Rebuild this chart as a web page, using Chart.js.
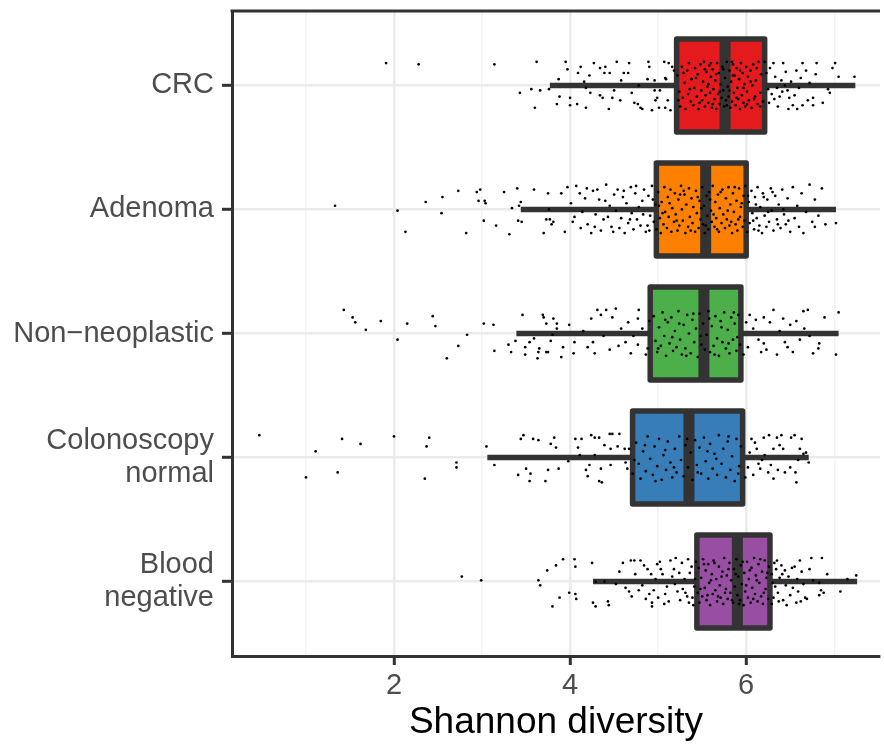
<!DOCTYPE html>
<html>
<head>
<meta charset="utf-8">
<script src="https://cdn.jsdelivr.net/npm/chart.js@4.4.1/dist/chart.umd.min.js"></script>
<style>
html,body{margin:0;padding:0;background:#fff;}
</style>
</head>
<body>
<canvas id="chart" width="884" height="746"></canvas>
<script>
// groups top to bottom
const groups = ['CRC', 'Adenoma', 'Non\u2212neoplastic', ['Colonoscopy', 'normal'], ['Blood', 'negative']];
const fills = ['#E41A1C', '#FF7F00', '#4DAF4A', '#377EB8', '#984EA3'];

// box stats
const q1 = [5.21, 4.98, 4.91, 4.71, 5.44];
const med = [5.76, 5.54, 5.52, 5.35, 5.90];
const q3 = [6.21, 6.00, 5.94, 5.96, 6.27];
const whiskLo = [3.77, 3.44, 3.39, 3.06, 4.26];
const whiskHi = [7.24, 7.02, 7.05, 6.71, 7.26];

const xTicks = [1, 2, 3, 4, 5, 6, 7];
const xTickLabels = {2: '2', 4: '4', 6: '6'};

// jittered samples: [shannon, vertical jitter]
const crcPts = [[1.91,-0.18],[2.28,-0.17],[3.14,-0.17],[3.62,-0.19],[3.43,0.06],[3.56,0.03],[3.66,0.04],[3.76,0.03],[3.60,0.18],[3.85,0.15],
[3.87,-0.05],[3.95,-0.19],[3.97,-0.13],[3.88,0.09],[4.00,0.10],[4.00,0.16],[4.08,0.15],[4.09,-0.10],[4.12,-0.15],[4.16,-0.03],[4.18,0.18],[4.18,0.02],[4.22,-0.08],[4.23,0.06],[4.27,-0.18],[4.34,-0.14],[4.34,0.08],[4.37,0.10],[4.40,-0.15],[4.39,-0.10],[4.44,0.19],[4.45,-0.10],[4.48,0.10],[4.50,0.04],[4.53,-0.19],[4.57,0.12],[4.58,-0.04],[4.61,-0.10],[4.67,-0.18],[4.66,-0.10],[4.70,0.06],[4.73,0.14],[4.77,0.15],[4.80,0.18],[4.82,0.19],[4.78,0.0],[4.88,-0.05],[4.89,-0.19],[4.90,-0.15],[4.93,0.20],[4.96,-0.04],[4.96,0.04],[4.97,0.12],[4.99,0.10],[5.01,0.18],[5.02,0.04],[5.07,-0.19],[5.08,-0.06],[5.09,-0.05],[5.08,0.18],[5.11,0.12],[5.12,-0.18],[5.14,0.20],[5.16,-0.15],[5.18,-0.12],
[5.22,-0.08],[5.24,0.05],[5.25,0.17],[5.27,-0.15],[5.28,0.10],[5.30,-0.02],[5.31,0.19],[5.33,-0.12],[5.34,0.07],[5.35,-0.18],[5.37,0.13],[5.38,-0.05],[5.40,0.16],[5.41,0.02],[5.42,-0.14],[5.44,0.09],[5.45,-0.09],[5.46,0.19],[5.48,-0.17],[5.49,0.04],[5.50,0.12],[5.51,-0.03],[5.52,-0.19],[5.53,0.17],[5.54,0.08],[5.55,-0.11],[5.56,0.01],[5.57,0.14],[5.58,-0.16],[5.59,0.06],[5.60,-0.07],[5.61,0.18],[5.62,-0.13],[5.63,0.03],[5.64,0.11],[5.65,-0.04],[5.66,0.19],[5.67,-0.18],[5.68,0.07],[5.69,-0.10],[5.70,0.15],[5.71,-0.01],[5.72,0.10],[5.73,-0.15],[5.74,0.04],[5.75,0.17],[5.76,-0.06],[5.77,0.12],[5.78,-0.19],[5.79,0.01],[5.80,0.09],[5.81,-0.12],[5.82,0.18],[5.83,-0.03],[5.84,0.13],[5.85,-0.17],[5.86,0.06],[5.87,-0.08],[5.88,0.16],[5.89,-0.14],[5.90,0.02],[5.91,0.11],[5.92,-0.05],[5.93,0.19],[5.94,-0.18],[5.95,0.08],[5.96,-0.10],[5.97,0.14],[5.98,-0.01],[5.99,0.17],[6.00,-0.15],[6.01,0.05],[6.02,-0.07],[6.03,0.12],[6.05,-0.12],[6.06,0.18],[6.07,0.00],[6.08,-0.17],[6.10,0.09],[6.11,-0.04],[6.13,0.15],[6.14,-0.19],[6.16,0.06],[6.17,-0.09],[6.19,0.13],
[5.23,0.12],[5.29,-0.10],[5.36,0.03],[5.43,-0.06],[5.47,0.14],[5.53,-0.13],[5.57,-0.01],[5.62,0.15],[5.66,-0.09],[5.70,0.05],[5.74,-0.13],[5.78,0.16],[5.81,0.04],[5.85,-0.08],[5.89,0.10],[5.93,-0.12],[5.97,0.02],[6.01,0.15],[6.05,-0.03],[6.09,0.11],[6.12,-0.14],[6.16,0.17],[5.60,-0.18],[5.84,-0.19],
[6.21,-0.19],[6.23,-0.10],[6.25,0.03],[6.27,-0.14],[6.31,-0.18],[6.33,-0.07],[6.35,0.02],[6.29,0.07],[6.42,-0.18],[6.40,-0.04],[6.44,0.00],[6.47,0.04],[6.49,0.10],[6.48,0.19],[6.53,0.16],[6.36,0.17],[6.57,-0.12],[6.64,-0.18],[6.68,-0.12],[6.64,0.16],[6.76,0.10],[6.76,0.16],[6.80,-0.18],[6.72,-0.02],[6.79,-0.09],[6.87,0.14],[6.93,0.03],[6.98,-0.14],[7.01,-0.18],[7.05,-0.07],[7.23,-0.07],[6.95,0.06],[6.38,0.09],[6.45,-0.11],[6.51,-0.03],[6.55,0.08],[6.60,0.02],[6.62,-0.06],[6.70,0.12],[6.26,0.14],[6.32,0.11],[6.41,0.05],[6.58,0.19]];

const adenomaPts = [[1.33,-0.03],[2.04,0.01],[2.13,0.18],[2.36,-0.06],[2.55,-0.10],[2.54,0.03],[2.73,-0.15],[2.82,0.19],[2.94,-0.14],[2.98,-0.16],[2.96,-0.07],[3.03,-0.07],[3.04,-0.05],[3.02,0.09],[3.16,0.13],[3.25,-0.14],[3.31,0.20],[3.34,-0.01],[3.40,-0.17],[3.41,0.09],[3.45,0.10],[3.42,-0.03],[3.44,-0.06],[3.59,-0.16],[3.75,-0.13],[3.76,0.00],[3.73,0.08],[3.77,0.08],[3.81,0.10],[3.70,0.19],[3.79,0.12],
[3.90,-0.13],[3.94,0.18],[3.97,-0.18],[4.01,-0.05],[4.03,0.10],[4.07,-0.19],[4.11,-0.13],[4.12,0.15],[4.14,0.02],[4.17,-0.09],[4.20,0.12],[4.24,0.19],[4.26,-0.15],[4.29,0.04],[4.31,-0.16],[4.33,-0.08],[4.35,0.17],[4.38,0.08],[4.41,-0.20],[4.43,0.06],[4.45,-0.03],[4.47,0.14],[4.50,-0.12],[4.52,0.01],[4.54,-0.16],[4.56,0.15],[4.58,0.07],[4.60,-0.10],[4.62,0.19],[4.64,-0.05],[4.66,0.11],[4.69,-0.18],[4.70,0.03],[4.72,0.16],[4.74,-0.13],[4.76,0.08],[4.78,-0.02],[4.80,0.13],[4.82,-0.07],[4.84,-0.16],[4.86,0.18],[4.88,0.13],[4.89,-0.11],[4.91,0.05],[4.93,-0.19],[4.95,0.10],[4.97,-0.04],[4.98,0.16],
[4.05,0.06],[4.19,-0.17],[4.28,0.14],[4.40,-0.07],[4.49,0.18],[4.61,-0.15],[4.68,0.08],[4.75,-0.19],[4.83,0.04],[4.90,0.17],[4.94,-0.08],
[5.00,-0.14],[5.02,0.07],[5.03,0.19],[5.04,-0.06],[5.06,0.12],[5.07,-0.18],[5.08,0.02],[5.10,0.15],[5.11,-0.10],[5.12,0.06],[5.14,-0.16],[5.15,0.18],[5.16,-0.01],[5.18,0.10],[5.19,-0.13],[5.20,0.04],[5.22,0.17],[5.23,-0.08],[5.24,0.13],[5.26,-0.19],[5.27,0.00],[5.28,0.09],[5.30,-0.12],[5.31,0.19],[5.32,-0.04],[5.34,0.14],[5.35,-0.17],[5.36,0.06],[5.38,-0.09],[5.39,0.11],[5.40,-0.02],[5.42,0.18],[5.43,-0.15],[5.44,0.03],[5.46,0.15],[5.47,-0.07],[5.48,0.08],[5.50,-0.18],[5.51,0.12],[5.52,-0.03],[5.53,0.19],[5.55,-0.11],[5.56,0.05],[5.57,0.16],[5.58,-0.14],[5.60,0.01],[5.61,0.10],[5.62,-0.19],[5.64,0.14],[5.65,-0.06],[5.66,0.07],[5.68,-0.12],[5.69,0.18],[5.70,-0.01],[5.72,0.11],[5.73,-0.16],[5.74,0.04],[5.76,0.15],[5.77,-0.09],[5.78,0.08],[5.80,-0.18],[5.81,0.13],[5.82,-0.04],[5.84,0.19],[5.85,-0.13],[5.86,0.02],[5.88,0.12],[5.89,-0.07],[5.90,0.17],[5.92,-0.17],[5.93,0.06],[5.94,-0.02],[5.96,0.14],[5.97,-0.11],[5.98,0.09],[5.99,-0.19],
[5.05,0.03],[5.13,-0.05],[5.21,0.09],[5.29,-0.15],[5.37,0.17],[5.45,-0.10],[5.54,0.13],[5.59,-0.08],[5.67,0.16],[5.71,-0.14],[5.79,0.01],[5.87,-0.18],[5.91,0.08],[5.95,-0.05],[5.01,-0.03],[5.25,-0.12],[5.49,-0.01],[5.63,0.04],[5.83,0.10],
[6.01,0.18],[6.03,-0.06],[6.04,0.11],[6.06,-0.15],[6.07,0.03],[6.09,0.16],[6.10,-0.10],[6.12,0.07],[6.13,-0.18],[6.15,0.13],[6.16,-0.02],[6.18,0.19],[6.19,-0.13],[6.21,0.05],[6.23,0.14],[6.24,-0.08],[6.26,0.10],[6.28,-0.17],[6.29,0.01],[6.31,0.17],[6.33,-0.11],[6.35,0.08],[6.37,-0.04],[6.39,0.15],[6.41,-0.16],[6.43,0.04],[6.45,0.12],[6.47,-0.09],[6.50,0.18],[6.53,-0.18],[6.55,0.07],[6.58,-0.03],[6.60,0.14],[6.63,-0.13],[6.65,0.19],[6.68,0.02],[6.72,-0.20],[6.75,0.10],[6.78,-0.08],[6.78,0.14],[6.82,0.05],[6.86,-0.17],[6.90,0.12],[7.02,0.11],
[6.02,-0.11],[6.08,0.09],[6.11,-0.04],[6.14,0.17],[6.20,-0.10],[6.25,0.02],[6.30,-0.14],[6.36,0.12],[6.42,0.00],[6.48,0.09]];

const nonNeoPts = [[1.43,-0.19],[1.53,-0.13],[1.56,-0.09],[1.68,-0.03],[1.85,-0.10],[2.04,0.05],[2.15,-0.08],[2.44,-0.14],[2.47,-0.06],[2.60,0.20],[2.73,0.10],[2.83,0.01],[3.02,-0.08],[3.13,-0.07],[3.14,0.14],[3.30,0.09],[3.33,0.15],[3.38,0.06],[3.46,-0.15],[3.49,0.11],[3.49,0.17],[3.54,0.07],[3.59,0.04],[3.63,0.20],[3.64,0.15],[3.65,0.12],[3.69,-0.15],[3.70,-0.13],[3.73,-0.08],[3.73,0.15],[3.75,0.15],[3.78,0.06],[3.81,-0.12],[3.85,-0.08],[3.85,-0.04],[3.80,0.01],
[3.90,0.19],[3.92,0.11],[3.99,-0.07],[4.04,0.16],[4.05,0.07],[4.24,-0.12],[4.26,0.07],[4.28,0.16],[4.31,-0.19],[4.35,-0.15],[4.41,-0.19],[4.45,0.13],[4.48,-0.13],[4.52,-0.20],[4.58,-0.04],[4.63,0.07],[4.69,0.16],[4.77,-0.12],[4.78,-0.19],[4.77,0.09],[4.82,-0.04],[4.86,0.17],[4.15,-0.02],[4.20,0.11],[4.38,0.02],[4.55,0.10],[4.66,-0.09],[4.72,0.02],[4.88,0.12],[4.90,-0.10],
[4.95,-0.14],[4.97,0.06],[4.99,0.15],[5.01,-0.05],[5.03,0.10],[5.05,-0.17],[5.07,0.02],[5.09,0.18],[5.11,-0.09],[5.13,0.08],[5.15,-0.13],[5.17,0.14],[5.19,-0.02],[5.21,0.11],[5.23,-0.18],[5.25,0.05],[5.27,0.17],[5.29,-0.07],[5.31,0.12],[5.33,-0.15],[5.35,0.00],[5.37,0.16],[5.39,-0.11],[5.41,0.07],[5.43,-0.04],[5.45,0.19],[5.47,-0.16],[5.49,0.09],[5.51,-0.08],[5.53,0.13],[5.55,0.01],[5.57,-0.18],[5.59,0.15],[5.61,-0.06],[5.63,0.10],[5.65,-0.14],[5.67,0.04],[5.69,0.18],[5.71,-0.10],[5.73,0.07],[5.75,-0.17],[5.77,0.12],[5.79,-0.03],[5.81,0.16],[5.83,-0.13],[5.85,0.05],[5.87,-0.08],[5.89,0.14],[5.91,-0.15],[5.93,0.09],
[5.00,0.12],[5.08,-0.11],[5.16,0.03],[5.24,-0.08],[5.32,0.18],[5.40,-0.16],[5.48,0.02],[5.58,-0.12],[5.64,0.17],[5.72,-0.05],[5.80,0.08],[5.86,-0.17],[5.90,0.03],
[6.04,-0.15],[6.08,-0.04],[6.14,0.05],[6.20,-0.13],[6.27,-0.09],[6.31,-0.19],[6.35,0.17],[6.42,-0.12],[6.44,0.07],[6.50,-0.07],[6.53,0.15],[6.61,0.05],[6.65,-0.18],[6.70,-0.19],[6.66,-0.04],[6.76,0.16],[6.82,0.12],[6.83,0.08],[6.89,-0.13],[7.02,0.17],[7.05,-0.17],[6.20,0.08],[6.23,0.13],[5.97,0.17],[6.00,-0.09],[6.02,0.11],[6.11,-0.11],[6.17,0.15],[6.38,-0.02],[6.47,0.11],[6.57,-0.10],[6.72,0.02]];

const colonPts = [[0.47,-0.18],[1.00,0.16],[1.11,-0.05],[1.36,0.12],[1.41,-0.15],[1.62,-0.11],[2.00,-0.17],[2.35,0.17],[2.37,-0.09],[2.40,-0.16],[2.71,0.04],[2.71,0.08],[3.05,-0.09],[3.14,0.06],[3.41,0.14],[3.44,-0.15],[3.47,-0.18],[3.50,0.09],[3.54,0.19],[3.55,0.13],[3.58,-0.15],[3.64,-0.14],[3.72,0.19],[3.75,0.10],[3.78,-0.11],[3.82,-0.16],[3.84,-0.08],[3.87,0.09],[3.98,0.03],[4.06,-0.15],[4.13,-0.15],[4.09,-0.08],[4.11,-0.02],[4.18,0.10],[4.20,0.15],[4.22,0.06],[4.24,-0.18],[4.28,-0.16],[4.33,-0.16],[4.28,-0.02],[4.33,0.19],[4.36,0.20],[4.39,-0.10],[4.35,0.09],[4.45,-0.19],[4.48,-0.19],[4.46,-0.07],[4.46,0.06],[4.54,-0.09],[4.56,-0.19],[4.62,-0.07],[4.63,0.04],[4.67,-0.07],[4.65,0.09],[4.71,0.13],
[4.75,-0.12],[4.78,0.05],[4.80,0.17],[4.83,-0.05],[4.86,0.11],[4.88,-0.17],[4.91,0.01],[4.94,0.14],[4.96,-0.09],[4.99,0.07],[5.01,-0.15],[5.04,0.18],[5.06,-0.02],[5.09,0.10],[5.11,-0.13],[5.14,0.04],[5.16,0.16],[5.19,-0.07],[5.21,0.12],[5.24,-0.17],[5.26,0.02],[5.29,0.15],[5.31,-0.10],[5.34,0.08],[5.37,-0.04],[5.39,0.18],[5.42,-0.14],[5.44,0.06],[5.47,-0.08],[5.49,0.13],[5.52,-0.16],[5.54,0.03],[5.57,0.17],[5.59,-0.11],[5.62,0.09],[5.64,-0.03],[5.67,0.14],[5.69,-0.18],[5.72,0.05],[5.74,-0.07],[5.77,0.16],[5.79,-0.13],[5.82,0.10],[5.84,-0.01],[5.87,0.19],[5.89,-0.15],[5.92,0.07],[5.94,-0.09],
[4.73,0.02],[4.85,-0.10],[4.97,0.19],[5.08,-0.06],[5.18,0.08],[5.33,-0.15],[5.45,0.12],[5.56,-0.05],[5.66,0.01],[5.80,-0.17],[5.91,0.13],
[5.99,0.16],[6.04,-0.04],[6.06,-0.15],[6.10,-0.12],[6.12,-0.07],[6.14,0.05],[6.16,0.09],[6.20,-0.16],[6.21,-0.02],[6.25,0.12],[6.26,-0.18],[6.31,-0.07],[6.31,0.17],[6.35,-0.16],[6.36,0.10],[6.40,-0.18],[6.42,-0.07],[6.44,0.12],[6.50,0.08],[6.51,-0.16],[6.55,-0.18],[6.56,0.12],[6.57,0.20],[6.61,-0.07],[6.63,-0.15],[6.59,0.02],[6.65,-0.03],[6.68,-0.04],[6.71,0.04],[6.02,0.08],[6.08,0.14],[6.18,0.02],[6.28,0.06],[6.38,-0.10]];

const bloodPts = [[2.77,-0.04],[2.99,-0.01],[3.64,-0.01],[3.66,0.03],[3.74,-0.09],[3.84,-0.13],[3.80,0.20],[3.88,0.13],[3.92,-0.18],[3.99,0.09],[4.05,-0.18],[4.06,-0.12],[4.06,0.10],[4.07,0.14],[4.25,-0.15],[4.26,0.17],[4.29,0.20],[4.43,0.16],[4.44,0.19],[4.29,0.00],[4.39,0.00],[4.60,-0.15],[4.63,0.05],[4.67,0.08],[4.69,-0.17],[4.73,-0.17],[4.74,-0.06],[4.78,0.07],[4.80,-0.17],[4.84,-0.13],[4.88,-0.10],[4.92,-0.06],[4.93,0.17],[4.93,0.20],[4.95,0.07],[4.99,-0.14],[5.05,-0.06],[5.08,0.10],[5.14,-0.17],[5.18,-0.10],[5.22,0.08],[5.25,0.15],[5.27,-0.15],[5.30,-0.02],[5.33,0.12],[5.35,0.17],[5.38,-0.12],[5.41,0.04],
[4.52,0.02],[4.56,-0.08],[4.70,0.12],[4.82,0.03],[4.86,0.14],[4.97,-0.02],[5.00,0.13],[5.02,-0.16],[5.10,0.04],[5.12,0.16],[5.16,-0.04],[5.20,-0.19],[5.28,0.06],[5.36,-0.07],[5.40,0.19],[5.43,-0.16],
[4.90,0.10],[5.03,-0.10],[5.07,0.18],[5.19,0.02],[5.24,-0.07],[5.31,0.09],[5.34,-0.18],[5.39,0.13],[5.42,-0.02],
[5.45,0.09],[5.46,-0.11],[5.47,0.17],[5.49,-0.03],[5.50,0.12],[5.51,-0.18],[5.53,0.05],[5.54,-0.09],[5.55,0.15],[5.57,-0.14],[5.58,0.01],[5.59,0.19],[5.61,-0.06],[5.62,0.10],[5.63,-0.17],[5.65,0.07],[5.66,-0.02],[5.67,0.16],[5.69,-0.12],[5.70,0.03],[5.71,0.13],[5.73,-0.08],[5.74,0.18],[5.75,-0.19],[5.77,0.06],[5.78,-0.05],[5.79,0.14],[5.81,-0.15],[5.82,0.09],[5.83,-0.01],[5.85,0.17],[5.86,-0.10],[5.87,0.04],[5.89,-0.18],[5.90,0.11],[5.91,-0.04],[5.93,0.15],[5.94,-0.13],[5.95,0.02],[5.97,0.19],[5.98,-0.07],[5.99,0.08],[6.01,-0.16],[6.02,0.13],[6.03,-0.02],[6.05,0.17],[6.06,-0.11],[6.07,0.05],[6.09,-0.19],[6.10,0.10],[6.11,-0.05],[6.13,0.16],[6.14,-0.14],[6.15,0.01],[6.17,0.12],[6.18,-0.08],[6.19,0.18],[6.21,-0.17],[6.22,0.06],[6.23,-0.03],[6.25,0.14],[6.26,-0.12],
[5.48,0.06],[5.52,-0.14],[5.56,0.11],[5.60,-0.01],[5.64,-0.15],[5.68,0.12],[5.72,-0.04],[5.76,0.09],[5.80,-0.10],[5.84,0.15],[5.88,-0.06],[5.92,0.18],[5.96,-0.16],[6.00,0.03],[6.04,-0.09],[6.08,0.14],[6.12,-0.01],[6.16,-0.18],[6.20,0.09],[6.24,-0.07],
[6.31,0.13],[6.35,-0.17],[6.38,-0.03],[6.42,0.15],[6.44,-0.09],[6.46,0.19],[6.50,0.11],[6.53,0.05],[6.57,0.17],[6.61,-0.17],[6.63,-0.08],[6.67,0.13],[6.69,0.14],[6.72,-0.10],[6.74,-0.19],[6.76,-0.01],[6.83,0.01],[6.85,0.07],[6.86,-0.19],[6.83,0.11],[6.88,0.09],[6.92,-0.06],[7.07,0.08],[7.15,-0.02],[7.25,-0.05],[6.29,-0.06],[6.33,0.04],[6.36,0.09],[6.40,-0.13],[6.48,-0.04],[6.55,-0.12],[6.59,0.08],[6.65,0.02],[6.29,0.18],[6.34,-0.10],
[6.30,0.01],[6.32,-0.15],[6.37,0.16],[6.41,-0.06],[6.45,0.03],[6.52,-0.11],[6.58,-0.02],[6.62,0.16]];

const allPts = [crcPts, adenomaPts, nonNeoPts, colonPts, bloodPts];

const dark = '#333333';
const boxHalf = 0.375;

const datasets = [];

// jitter points on top
datasets.push({
  type: 'scatter',
  data: allPts.flatMap((pts, i) => pts.map(p => ({x: p[0], y: i + 1 + p[1]}))),
  pointRadius: 1.35,
  pointBorderWidth: 0,
  pointBackgroundColor: '#000',
  order: 0
});

groups.forEach((g, i) => {
  const c = i + 1;
  // median
  datasets.push({
    type: 'scatter', showLine: true, pointRadius: 0,
    data: [{x: med[i], y: c - boxHalf}, {x: med[i], y: c + boxHalf}],
    borderColor: dark, borderWidth: 11, borderCapStyle: 'butt',
    order: 1
  });
  // box outline
  datasets.push({
    type: 'scatter', showLine: true, pointRadius: 0,
    data: [{x: q1[i], y: c - boxHalf}, {x: q3[i], y: c - boxHalf}, {x: q3[i], y: c + boxHalf},
           {x: q1[i], y: c + boxHalf}, {x: q1[i], y: c - boxHalf}],
    borderColor: dark, borderWidth: 5.5, borderJoinStyle: 'round', borderCapStyle: 'round',
    order: 2
  });
  // whiskers
  datasets.push({
    type: 'scatter', showLine: true, pointRadius: 0,
    data: [{x: whiskLo[i], y: c}, {x: q1[i], y: c}],
    borderColor: dark, borderWidth: 5.5, borderCapStyle: 'butt',
    order: 4
  });
  datasets.push({
    type: 'scatter', showLine: true, pointRadius: 0,
    data: [{x: q3[i], y: c}, {x: whiskHi[i], y: c}],
    borderColor: dark, borderWidth: 5.5, borderCapStyle: 'butt',
    order: 4
  });
});

// box fill
datasets.push({
  type: 'bar',
  indexAxis: 'y',
  data: groups.map((g, i) => ({y: i + 1, x: [q1[i], q3[i]]})),
  backgroundColor: fills,
  borderWidth: 0,
  barThickness: 93,
  grouped: false,
  order: 3
});

const panelTop = {
  id: 'panelTop',
  beforeDraw(chart) {
    const c = chart.ctx;
    c.save();
    c.fillStyle = '#fff';
    c.fillRect(0, 0, chart.width, chart.height);
    c.restore();
  },
  afterDraw(chart) {
    const a = chart.chartArea, c = chart.ctx;
    c.save();
    c.strokeStyle = dark;
    c.lineWidth = 3;
    c.beginPath();
    c.moveTo(a.left - 1.5, a.top);
    c.lineTo(a.right, a.top);
    c.stroke();
    c.restore();
  }
};

const isMajor = v => xTickLabels[v] !== undefined;

new Chart(document.getElementById('chart'), {
  type: 'scatter',
  data: {datasets: datasets},
  plugins: [panelTop],
  options: {
    responsive: false,
    animation: false,
    events: [],
    layout: {padding: {top: 11, right: 0, bottom: 0, left: 0}},
    plugins: {legend: {display: false}, tooltip: {enabled: false}},
    scales: {
      x: {
        type: 'linear',
        min: 0.16,
        max: 7.52,
        offset: false,
        afterBuildTicks: s => { s.ticks = xTicks.map(v => ({value: v})); },
        afterFit: s => { s.height = 90; s.paddingLeft = 0; s.paddingRight = 0; },
        ticks: {
          autoSkip: false,
          maxRotation: 0,
          padding: 4,
          color: '#4D4D4D',
          font: {family: 'Liberation Sans', size: 29},
          callback: v => xTickLabels[v] || ''
        },
        grid: {
          offset: false,
          color: ctx => isMajor(ctx.tick.value) ? '#EBEBEB' : '#F3F3F3',
          lineWidth: ctx => isMajor(ctx.tick.value) ? 2.6 : 1.4,
          tickColor: ctx => isMajor(ctx.tick.value) ? dark : 'rgba(0,0,0,0)',
          tickLength: 9,
          tickWidth: 3
        },
        border: {color: dark, width: 3},
        title: {
          display: true,
          text: 'Shannon diversity',
          color: '#000',
          font: {family: 'Liberation Sans', size: 37},
          padding: {top: 4, bottom: 1}
        }
      },
      y: {
        type: 'linear',
        reverse: true,
        min: 0.4,
        max: 5.6,
        offset: false,
        afterBuildTicks: s => { s.ticks = groups.map((g, i) => ({value: i + 1})); },
        afterFit: s => { s.width = 232; s.paddingTop = 0; s.paddingBottom = 0; },
        ticks: {
          autoSkip: false,
          padding: 8,
          color: '#4D4D4D',
          font: {family: 'Liberation Sans', size: 29, lineHeight: 1.12},
          callback: v => groups[v - 1]
        },
        grid: {
          offset: false,
          color: '#EBEBEB',
          lineWidth: 2.6,
          tickColor: dark,
          tickLength: 10,
          tickWidth: 3
        },
        border: {color: dark, width: 3}
      }
    }
  }
});
</script>
</body>
</html>
